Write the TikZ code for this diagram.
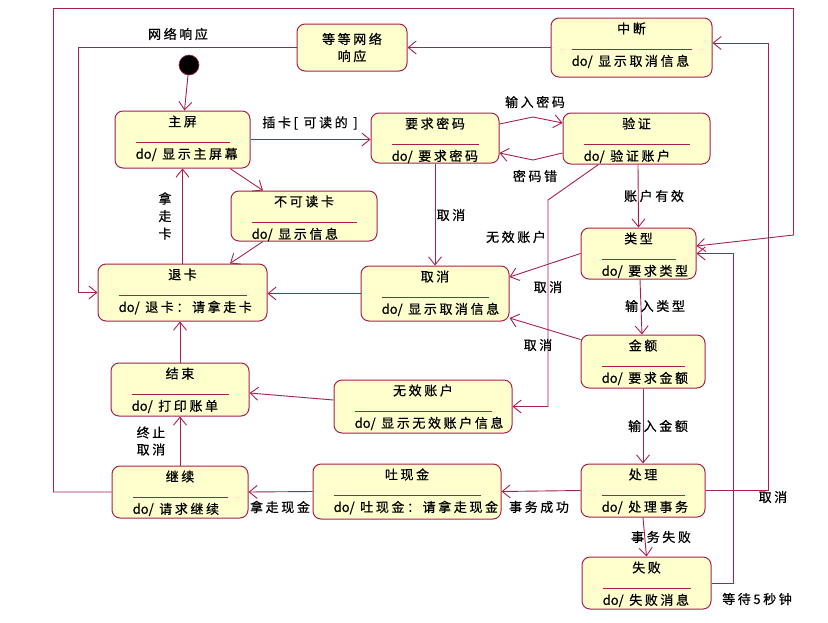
\documentclass[tikz,border=0pt]{standalone}
\usepackage{fontspec}
\newfontfamily\cjk[LetterSpace=20,FakeBold=0.6]{Noto Sans CJK SC}
\newfontfamily\cjkplain[FakeBold=0.6]{Noto Sans CJK SC}
\usetikzlibrary{arrows.meta,calc}
\definecolor{umlred}{RGB}{168,32,78}
\definecolor{umlfill}{RGB}{255,255,206}
\tikzset{
  statebox/.style={draw=umlred, fill=umlfill, line width=1pt, rounded corners=8pt, inner sep=0pt},
  trans/.style={draw=umlred, line width=0.9pt, -{Straight Barb[length=8pt,width=13pt]}},
  lbl/.style={inner sep=0pt, align=center}
}
% state with name, do-activity and separator rule
\newcommand{\umlstate}[7]{%
  \node[statebox, minimum width=#4pt, minimum height=#5pt] (#1) at ({#2+#4/2},{#3+#5/2}) {};
  \node[lbl] (#1-t) at ([yshift=-11pt]#1.north) {#6};
  \draw[umlred, line width=0.9pt] ([xshift=21pt,yshift=-32pt]#1.north west) -- ([xshift=-21pt,yshift=-32pt]#1.north east);
  \node[lbl, anchor=west] (#1-d) at ([xshift=21pt,yshift=-44pt]#1.north west) {{\cjkplain do/} #7};
}
\begin{document}
\begin{tikzpicture}[x=1pt, y=-1pt, font=\cjk\fontsize{13}{17}\selectfont]
    \useasboundingbox (0,0) rectangle (828,622);
    \node[statebox, minimum width=110pt, minimum height=47pt, align=center] (wait) at (352,47.5) {等等网络\\响应};
    \umlstate{abort}{551}{18}{161}{59}{中断}{显示取消信息}
    \node[circle, fill=black, draw=umlred, line width=0.6pt, minimum size=20pt, inner sep=0pt] (init) at (189,65) {};
    \umlstate{home}{115}{111}{135}{57}{主屏}{显示主屏幕}
    \umlstate{reqpin}{371}{113}{128}{50}{要求密码}{要求密码}
    \umlstate{verify}{563}{113}{147}{51}{验证}{验证账户}
    \umlstate{badcard}{231}{191}{146}{50}{不可读卡}{显示信息}
    \umlstate{eject}{98}{264}{169}{57}{退卡}{退卡：请拿走卡}
    \umlstate{cancel}{361}{266}{148}{55}{取消}{显示取消信息}
    \umlstate{type}{581}{228}{115}{51}{类型}{要求类型}
    \umlstate{amount}{581}{335}{124}{53}{金额}{要求金额}
    \umlstate{finish}{111}{363}{138}{53}{结束}{打印账单}
    \umlstate{badacct}{334}{380}{178}{53}{无效账户}{显示无效账户信息}
    \umlstate{cont}{112}{466}{136}{52}{继续}{请求继续}
    \umlstate{cash}{313}{464}{188}{55}{吐现金}{吐现金：请拿走现金}
    \umlstate{proc}{581}{464}{124}{53}{处理}{处理事务}
    \umlstate{fail}{582}{557}{129}{52}{失败}{失败消息}

    \coordinate (pinup) at (533,117);
    \coordinate (pindown) at (533,160);
    \coordinate (acctbend) at (548,200);
    \coordinate (netleft) at (78,47.5);
    \coordinate (loopnw) at (53.5,8.5);
    \coordinate (loopne) at (793.5,8.5);
    \coordinate (loope) at (793.5,235);
    \coordinate (cancelup) at (768,43);
    \coordinate (waitup) at (733,253.5);

    \draw[trans] (init) -- ([xshift=2pt]home.north);
    \draw[trans] (home.east) -- (reqpin.west |- home.east);
    \draw[trans] ([xshift=47.5pt]home.south) -- ([xshift=-41pt]badcard.north);
    \draw[trans] ([yshift=14pt]reqpin.east) -- (pinup) -- ([yshift=15.5pt]verify.west);
    \draw[trans] ([yshift=-14.5pt]verify.west) -- (pindown) -- ([yshift=-15pt]reqpin.east);
    \draw[trans] ([xshift=1.5pt]verify.south) -- (type.north);
    \draw[trans] ([xshift=36pt]verify.south west) -- (acctbend) |- (badacct.east);
    \draw[trans] (reqpin.south) -- (cancel.north);
    \draw[trans] (cancel.west) -- (eject.east |- cancel.west);
    \draw[trans] ([xshift=-41pt]badcard.south) -- ([xshift=47.5pt]eject.north);
    \draw[trans] (eject.north) -- (home.south);
    \draw[trans] (wait.west) -- (netleft) |- (eject.west);
    \draw[trans] (abort.west) -- (wait.east);
    \draw[trans] (type.west) -- ([yshift=16.5pt]cancel.east);
    \draw[trans] ([yshift=-5pt]amount.north west) -- ([yshift=-24.5pt]cancel.east);
    \draw[trans] ([xshift=1.5pt]type.south) -- ([xshift=-1pt]amount.north);
    \draw[trans] (amount.south) -- (proc.north);
    \draw[trans] (proc.west) -- (cash.east);
    \draw[trans] (cash.west) -- (cont.east);
    \draw[trans] (cont.north) -- (finish.north |- finish.south);
    \draw[trans] (finish.north) -- (eject.south -| finish.north);
    \draw[trans] ([yshift=6.5pt]badacct.west) -- ([yshift=-3.5pt]finish.east);
    \draw[trans] (cont.west) -| (loopnw) -- (loopne) -- (loope) -- ([yshift=7.5pt]type.east);
    \draw[trans] (proc.east) -| (cancelup) -- ([yshift=4.5pt]abort.east);
    \draw[trans] (proc.south) -- (fail.north);
    \draw[trans] (fail.east) -| (waitup) -- (type.east);

    \node[lbl] (l-insert) at (310,123) {插卡[ 可读的 ]};
    \node[lbl] (l-pin) at (535,102) {输入密码};
    \node[lbl] (l-badpin) at (535,176) {密码错};
    \node[lbl] (l-valid) at (654,196) {账户有效};
    \node[lbl] (l-c1) at (451,215) {取消};
    \node[lbl] (l-invalid) at (516,237) {无效账户};
    \node[lbl] (l-c2) at (548,287) {取消};
    \node[lbl] (l-c3) at (538,345) {取消};
    \node[lbl] (l-type) at (655,306) {输入类型};
    \node[lbl] (l-amount) at (658,426) {输入金额};
    \node[lbl] (l-ok) at (539,507) {事务成功};
    \node[lbl] (l-failed) at (661,537) {事务失败};
    \node[lbl] (l-c4) at (773,497) {取消};
    \node[lbl] (l-wait) at (757,599) {等待5秒钟};
    \node[lbl] (l-takecash) at (280,507) {拿走现金};
    \node[lbl] (l-stop) at (151,441) {终止\\取消};
    \node[lbl, font=\cjk\fontsize{13}{17.5}\selectfont] (l-takecard) at (165,216) {拿\\走\\卡};
    \node[lbl] (l-net) at (178,34) {网络响应};
\end{tikzpicture}
\end{document}
